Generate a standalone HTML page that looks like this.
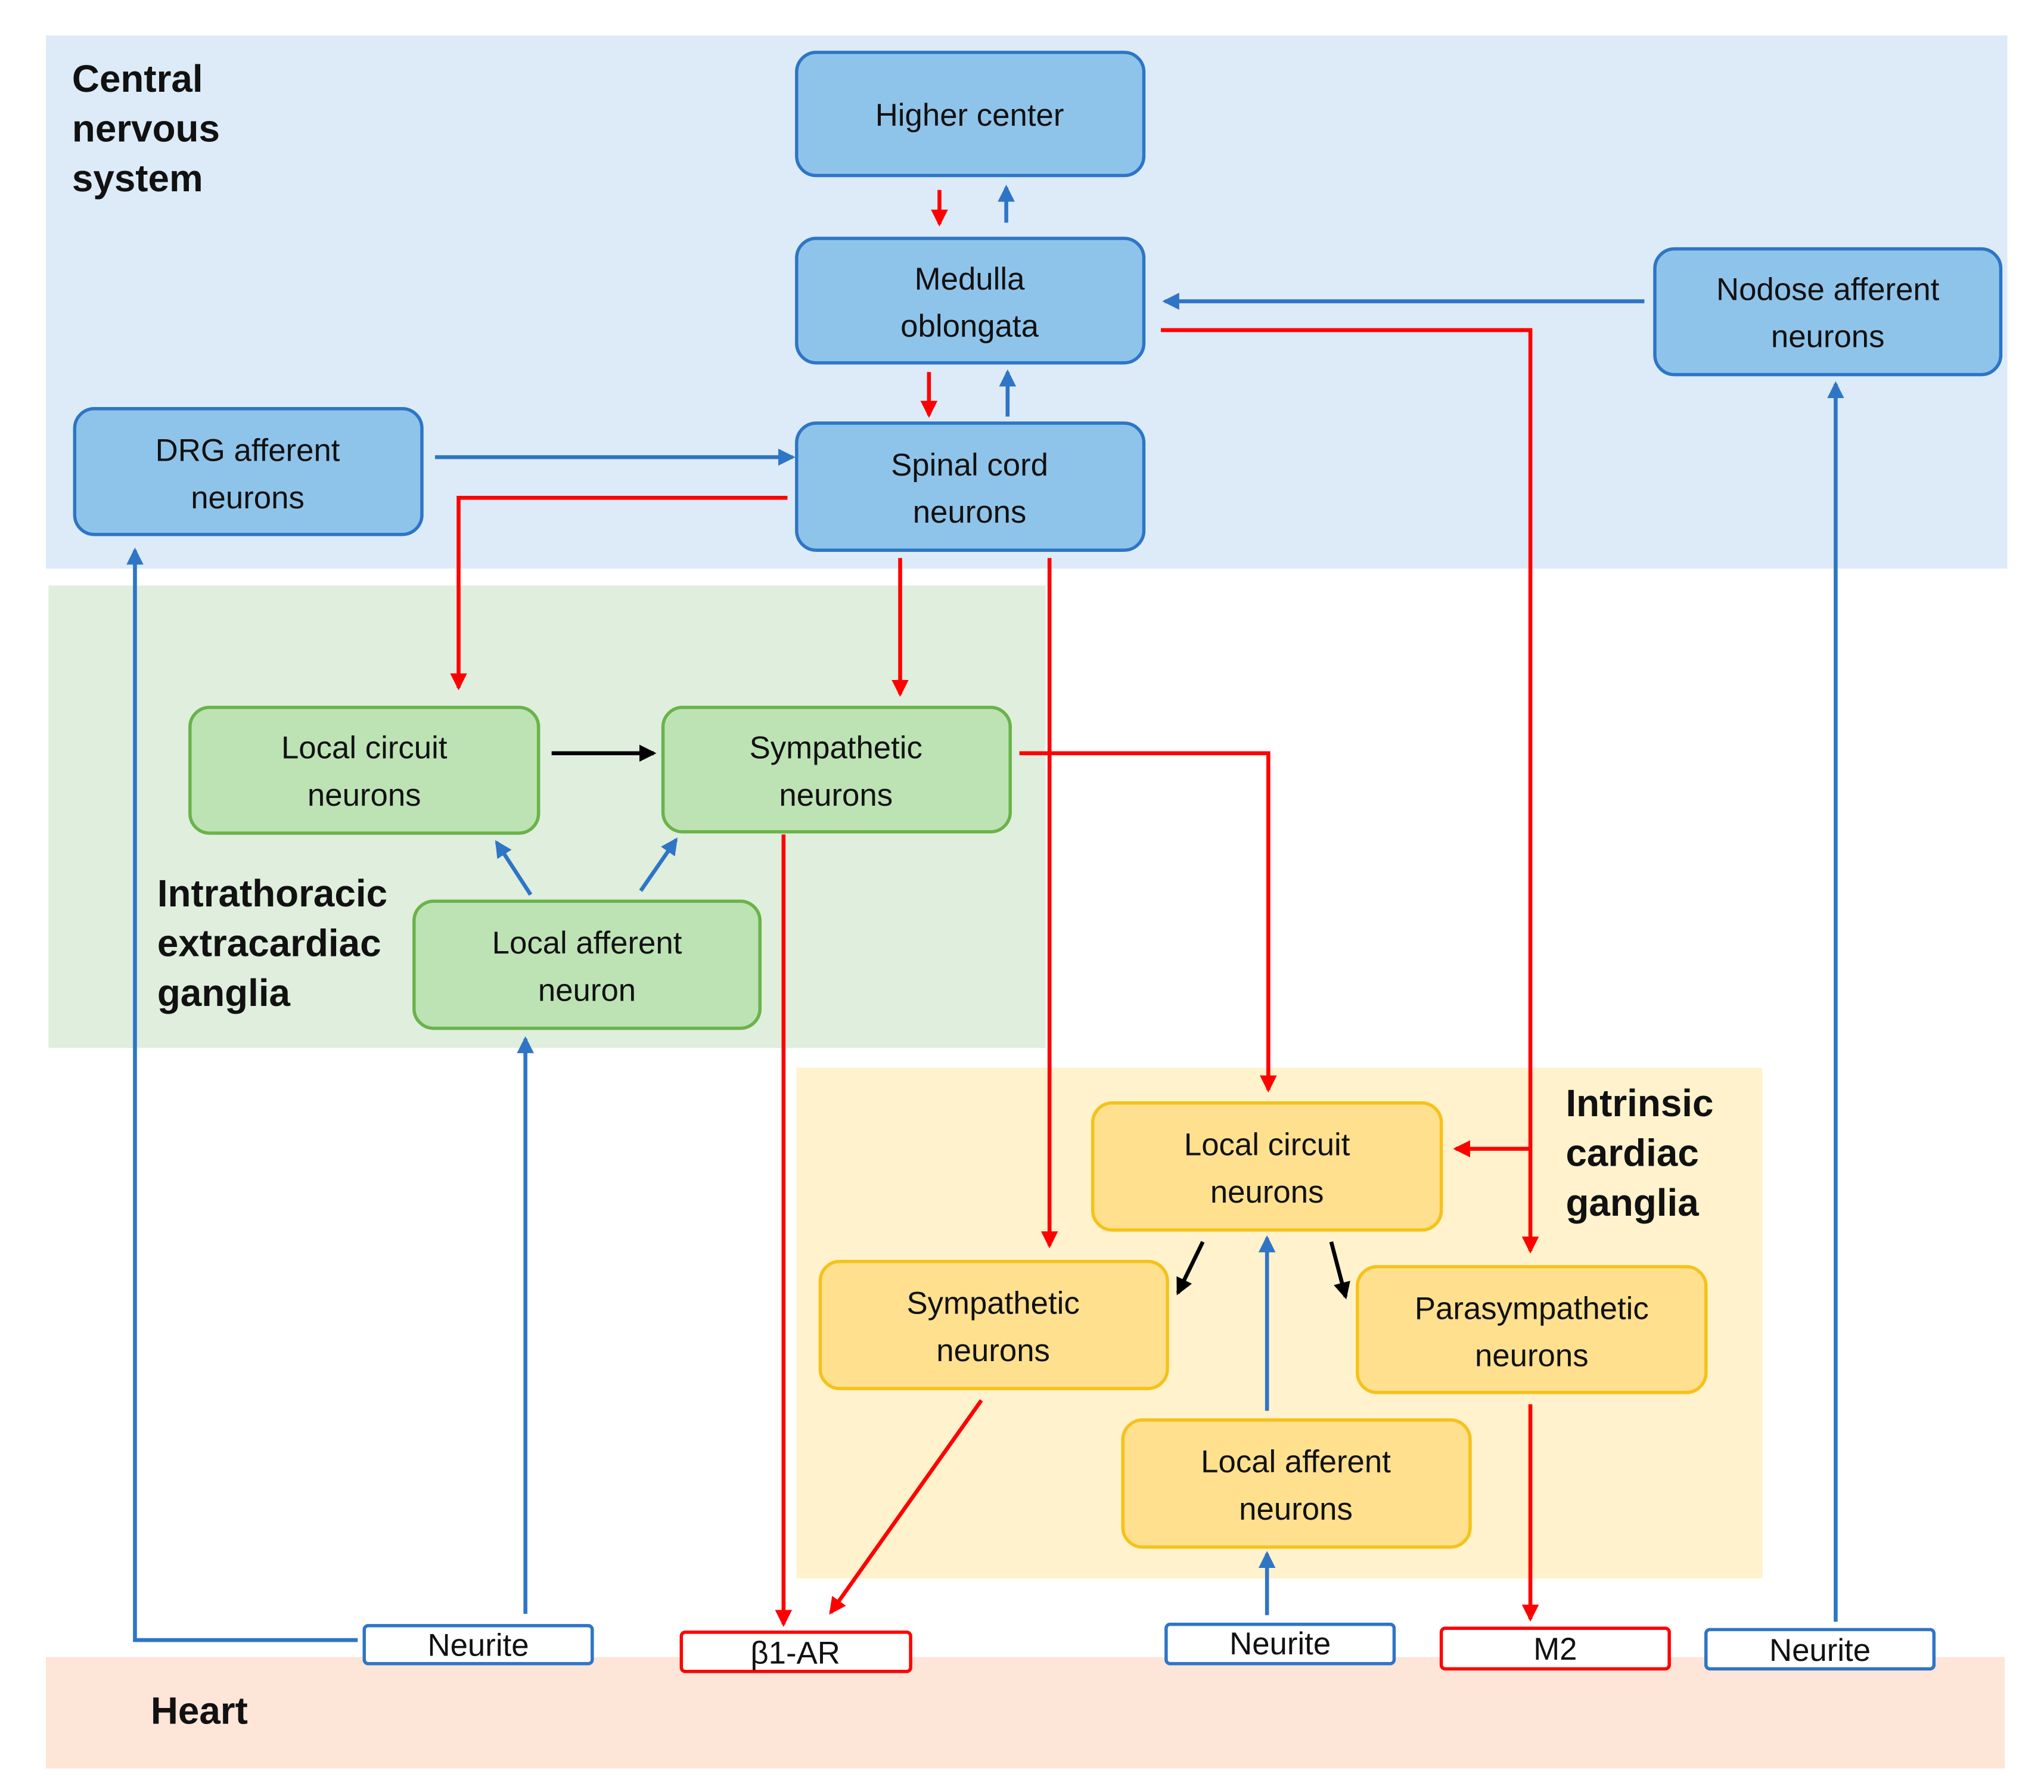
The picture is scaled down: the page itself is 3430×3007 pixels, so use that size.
<!DOCTYPE html>
<html><head><meta charset="utf-8"><style>
html,body{margin:0;padding:0;background:#fff;}
svg{display:block;}
text{font-family:"Liberation Sans",sans-serif;}
.t{font-size:24px;fill:#111;text-anchor:middle;}
.h{font-size:29px;font-weight:bold;fill:#111;}
.s{font-size:24px;fill:#111;text-anchor:middle;}
</style></head><body>
<svg width="3430" height="3007" viewBox="0 0 1560 1368" preserveAspectRatio="none" xmlns="http://www.w3.org/2000/svg">
<defs>
<marker id="r" markerWidth="13" markerHeight="13" refX="11" refY="6.5" orient="auto" markerUnits="userSpaceOnUse" viewBox="0 0 13 13"><path d="M0,0 L13,6.5 L0,13z" fill="#ff0000"/></marker>
<marker id="b" markerWidth="13" markerHeight="13" refX="11" refY="6.5" orient="auto" markerUnits="userSpaceOnUse" viewBox="0 0 13 13"><path d="M0,0 L13,6.5 L0,13z" fill="#2e75c6"/></marker>
<marker id="k" markerWidth="13" markerHeight="13" refX="11" refY="6.5" orient="auto" markerUnits="userSpaceOnUse" viewBox="0 0 13 13"><path d="M0,0 L13,6.5 L0,13z" fill="#000"/></marker>
</defs>
<style>
.R{stroke:#ff0000;stroke-width:3;fill:none;marker-end:url(#r)}
.B{stroke:#2e75c6;stroke-width:3;fill:none;marker-end:url(#b)}
.K{stroke:#000;stroke-width:3;fill:none;marker-end:url(#k)}
.bb{fill:#8fc4ea;stroke:#2e75c6;stroke-width:2.5}
.gb{fill:#bde3b4;stroke:#6ab34a;stroke-width:2.5}
.yb{fill:#ffe08f;stroke:#f5c21a;stroke-width:2.5}
</style>
<rect x="35" y="27" width="1497" height="407" fill="#dcebf7"/>
<rect x="37" y="447" width="761" height="353" fill="#dfeedd"/>
<rect x="608" y="815" width="737" height="390" fill="#fff2cc"/>
<rect x="35" y="1265" width="1495" height="85" fill="#fde5d8"/>

<text class="h" x="55" y="70">Central</text>
<text class="h" x="55" y="108">nervous</text>
<text class="h" x="55" y="146">system</text>
<text class="h" x="120" y="692">Intrathoracic</text>
<text class="h" x="120" y="730">extracardiac</text>
<text class="h" x="120" y="768">ganglia</text>
<text class="h" x="1195" y="852">Intrinsic</text>
<text class="h" x="1195" y="890">cardiac</text>
<text class="h" x="1195" y="928">ganglia</text>
<text class="h" x="115" y="1316">Heart</text>

<line class="R" x1="717" y1="145" x2="717" y2="171"/>
<line class="B" x1="768" y1="170" x2="768" y2="143"/>
<line class="R" x1="709" y1="284" x2="709" y2="317"/>
<line class="B" x1="769" y1="318" x2="769" y2="284"/>
<line class="B" x1="1255" y1="230" x2="889" y2="230"/>
<polyline class="R" points="886,252 1168,252 1168,955"/>
<line class="R" x1="1168" y1="877" x2="1111" y2="877"/>
<line class="B" x1="332" y1="349" x2="605" y2="349"/>
<polyline class="R" points="601,380 350,380 350,525"/>
<line class="R" x1="687" y1="426" x2="687" y2="530"/>
<line class="R" x1="801" y1="426" x2="801" y2="951"/>
<line class="K" x1="421" y1="575" x2="499" y2="575"/>
<polyline class="R" points="778,575 968,575 968,832"/>
<line class="B" x1="405" y1="683" x2="379" y2="643"/>
<line class="B" x1="489" y1="680" x2="516" y2="641"/>
<line class="R" x1="598" y1="637" x2="598" y2="1240"/>
<line class="B" x1="401" y1="1232" x2="401" y2="793"/>
<polyline class="B" points="273,1252 103,1252 103,420"/>
<line class="B" x1="1401" y1="1238" x2="1401" y2="293"/>
<line class="K" x1="918" y1="948" x2="899" y2="987"/>
<line class="K" x1="1016" y1="948" x2="1027" y2="990"/>
<line class="B" x1="967" y1="1077" x2="967" y2="945"/>
<line class="R" x1="749" y1="1069" x2="634" y2="1231"/>
<line class="B" x1="967" y1="1233" x2="967" y2="1186"/>
<line class="R" x1="1168" y1="1072" x2="1168" y2="1236"/>

<rect class="bb" x="608" y="40" width="265" height="94" rx="15"/>
<text class="t" x="740" y="96">Higher center</text>
<rect class="bb" x="608" y="182" width="265" height="95" rx="15"/>
<text class="t" x="740" y="221">Medulla</text><text class="t" x="740" y="257">oblongata</text>
<rect class="bb" x="1263" y="190" width="264" height="96" rx="15"/>
<text class="t" x="1395" y="229">Nodose afferent</text><text class="t" x="1395" y="265">neurons</text>
<rect class="bb" x="57" y="312" width="265" height="96" rx="15"/>
<text class="t" x="189" y="352">DRG  afferent</text><text class="t" x="189" y="388">neurons</text>
<rect class="bb" x="608" y="323" width="265" height="97" rx="15"/>
<text class="t" x="740" y="363">Spinal cord</text><text class="t" x="740" y="399">neurons</text>

<rect class="gb" x="145" y="540" width="266" height="96" rx="15"/>
<text class="t" x="278" y="579">Local circuit</text><text class="t" x="278" y="615">neurons</text>
<rect class="gb" x="506" y="540" width="265" height="95" rx="15"/>
<text class="t" x="638" y="579">Sympathetic</text><text class="t" x="638" y="615">neurons</text>
<rect class="gb" x="316" y="688" width="264" height="97" rx="15"/>
<text class="t" x="448" y="728">Local afferent</text><text class="t" x="448" y="764">neuron</text>

<rect class="yb" x="834" y="842" width="266" height="97" rx="15"/>
<text class="t" x="967" y="882">Local circuit</text><text class="t" x="967" y="918">neurons</text>
<rect class="yb" x="626" y="963" width="265" height="97" rx="15"/>
<text class="t" x="758" y="1003">Sympathetic</text><text class="t" x="758" y="1039">neurons</text>
<rect class="yb" x="1036" y="967" width="266" height="96" rx="15"/>
<text class="t" x="1169" y="1007">Parasympathetic</text><text class="t" x="1169" y="1043">neurons</text>
<rect class="yb" x="857" y="1084" width="265" height="97" rx="15"/>
<text class="t" x="989" y="1124">Local afferent</text><text class="t" x="989" y="1160">neurons</text>

<rect x="278" y="1241" width="174" height="29" rx="3" fill="#fff" stroke="#2e75c6" stroke-width="2.5"/>
<text class="s" x="365" y="1264">Neurite</text>
<rect x="520" y="1246" width="175" height="30" rx="3" fill="#fff" stroke="#ff0000" stroke-width="2.5"/>
<text class="s" x="607" y="1270">β1-AR</text>
<rect x="890" y="1240" width="174" height="30" rx="3" fill="#fff" stroke="#2e75c6" stroke-width="2.5"/>
<text class="s" x="977" y="1263">Neurite</text>
<rect x="1100" y="1243" width="174" height="31" rx="3" fill="#fff" stroke="#ff0000" stroke-width="2.5"/>
<text class="s" x="1187" y="1267">M2</text>
<rect x="1302" y="1244" width="174" height="30" rx="3" fill="#fff" stroke="#2e75c6" stroke-width="2.5"/>
<text class="s" x="1389" y="1268">Neurite</text>
</svg>
</body></html>
